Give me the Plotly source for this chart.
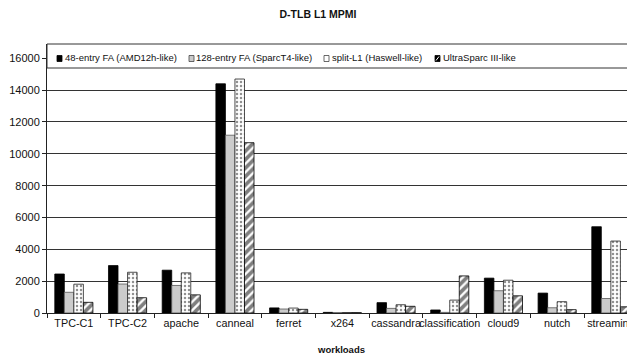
import plotly.graph_objects as go

categories = ["TPC-C1", "TPC-C2", "apache", "canneal", "ferret", "x264",
              "cassandra", "classification", "cloud9", "nutch", "streaming"]
series_names = ["48-entry FA (AMD12h-like)", "128-entry FA (SparcT4-like)",
                "split-L1 (Haswell-like)", "UltraSparc III-like"]
fa48 = [2450, 2980, 2690, 14400, 320, 40, 650, 190, 2190, 1250, 5420]
fa128 = [1300, 1820, 1730, 11170, 250, 20, 290, 40, 1400, 330, 910]
split_l1 = [1810, 2560, 2520, 14700, 310, 30, 520, 810, 2060, 710, 4520]
ultra = [670, 960, 1140, 10700, 230, 20, 420, 2330, 1080, 210, 390]
y_ticks = [0, 2000, 4000, 6000, 8000, 10000, 12000, 14000, 16000]
y_tick_labels = ["0", "2000", "4000", "6000", "8000", "10000", "12000", "14000", "16000"]

# the page body adds an 8px offset; work in reference pixels minus that offset
OFF = 8
W, H = 635 - OFF, 362 - OFF
AX_L, AX_T, AX_B = 47, 44, 313          # reference pixel coordinates of plot area
ML, MT, MB = AX_L - OFF, AX_T - OFF, (362 - AX_B)
FONT = "Liberation Sans, Arial, sans-serif"

styles = [
    dict(color="black", line=dict(color="black", width=0.8)),
    dict(color="#cbcbcb", line=dict(color="#555555", width=0.8)),
    dict(color="white", line=dict(color="#222222", width=0.8),
         pattern=dict(shape=".", size=4, solidity=0.3, fgcolor="#222222", bgcolor="white")),
    dict(color="black", line=dict(color="black", width=0.8),
         pattern=dict(shape="/", size=6, solidity=0.62, fgcolor="black", bgcolor="white")),
]

fig = go.Figure()
for name, vals, st in zip(series_names, [fa48, fa128, split_l1, ultra], styles):
    fig.add_trace(go.Bar(x=categories, y=vals, name=name, marker=st, showlegend=False))

plot_w = W - ML
ph = H - MT - MB
cat_w = 53.7
fig.update_layout(
    width=W, height=H,
    margin=dict(l=ML, r=0, t=MT, b=MB, pad=0),
    paper_bgcolor="white", plot_bgcolor="white",
    barmode="group", bargap=0.29, bargroupgap=0,
    font=dict(family=FONT, size=11, color="#111111"),
    title=dict(text="<b>D-TLB L1 MPMI</b>", x=(318 - OFF) / W, xref="container", xanchor="center",
               y=1 - (14 - OFF) / H, yref="container", yanchor="middle",
               font=dict(family=FONT, size=10.5, color="#111111")),
    xaxis=dict(range=[-0.5, -0.5 + plot_w / cat_w], showline=True, linecolor="#222222", linewidth=1,
               ticks="outside", ticklen=4, tickcolor="#222222", tickson="boundaries",
               tickangle=0, showgrid=False, tickfont=dict(size=10.8), fixedrange=True,
               automargin=False),
    yaxis=dict(range=[0, 16900], tickvals=y_ticks, ticktext=y_tick_labels, showline=True,
               linecolor="#222222", linewidth=1, automargin=False,
               ticks="outside", ticklen=4, tickcolor="#222222", showgrid=True,
               gridcolor="#333333", gridwidth=1, zeroline=False, tickfont=dict(size=11)),
)

# axis title
fig.add_annotation(text="<b>workloads</b>", xref="paper", yref="paper",
                   x=(341 - AX_L) / plot_w, y=-(350 - AX_B) / ph,
                   xanchor="center", yanchor="middle", showarrow=False,
                   font=dict(family=FONT, size=9.5, color="#111111"))

# legend box on top of plot area
box_bottom = (AX_B - 68) / ph
fig.add_shape(type="rect", xref="paper", yref="paper", x0=0, x1=1.05, y0=box_bottom, y1=1.0,
              fillcolor="white", line=dict(color="#333333", width=1), layer="above")

leg_x = [57, 189, 324, 435]
sq_fill = ["black", "#cbcbcb", "white", "black"]
sq_line = ["black", "#444444", "#444444", "black"]
ly = AX_B - 58.5
for name, lx, f, lc in zip(series_names, leg_x, sq_fill, sq_line):
    fig.add_shape(type="rect", xref="paper", yref="paper",
                  x0=(lx - AX_L) / plot_w, x1=(lx + 5 - AX_L) / plot_w,
                  y0=(ly - 3) / ph, y1=(ly + 3) / ph,
                  fillcolor=f, line=dict(color=lc, width=0.8), layer="above")
    fig.add_annotation(text=name, xref="paper", yref="paper",
                       x=(lx + 5.5 - AX_L) / plot_w, y=(ly + 0.5) / ph, xanchor="left", yanchor="middle",
                       showarrow=False, font=dict(family=FONT, size=9.5, color="#111111"))
# white stripe on UltraSparc legend square
fig.add_shape(type="line", xref="paper", yref="paper",
              x0=(leg_x[3] + 1 - AX_L) / plot_w, x1=(leg_x[3] + 4 - AX_L) / plot_w,
              y0=(ly - 2) / ph, y1=(ly + 2) / ph, line=dict(color="white", width=1), layer="above")

fig.write_html("out.html")
